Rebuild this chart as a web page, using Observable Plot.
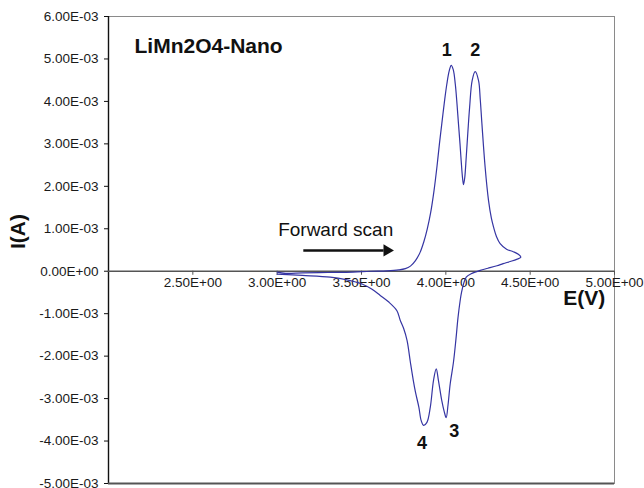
<!DOCTYPE html>
<html><head><meta charset="utf-8">
<script src="https://cdn.jsdelivr.net/npm/d3@7"></script>
<script src="https://cdn.jsdelivr.net/npm/@observablehq/plot@0.6"></script>
<style>body{margin:0;background:#fff} svg{overflow:visible}</style>
</head><body><div id="chart"></div>
<script>
// Cyclic voltammogram, scan order: forward (anodic) 3.0 -> 4.45 V, then reverse (cathodic) back to 3.0 V
const scanE = [
  3.000,3.050,3.150,3.300,3.450,3.550,3.650,3.720,3.760,3.790,3.820,3.848,3.870,3.890,3.910,3.930,3.947,3.962,3.976,3.992,
  4.006,4.020,4.032,4.044,4.056,4.066,4.075,4.084,4.091,4.099,4.105,4.112,4.121,4.131,4.141,4.156,4.174,4.194,4.204,4.214,
  4.233,4.253,4.270,4.283,4.300,4.322,4.360,4.400,4.430,4.445,
  4.420,4.382,4.340,4.303,4.250,4.204,4.150,4.121,4.105,4.093,4.085,4.072,4.060,4.045,4.026,4.013,4.002,3.990,3.976,3.956,
  3.943,3.927,3.908,3.888,3.868,3.854,3.840,3.820,3.807,3.790,3.770,3.750,3.730,3.710,3.660,3.611,3.560,3.503,3.400,3.315,
  3.150,3.000
];
// current in mA
const scanI = [
  -0.02,-0.05,-0.04,-0.03,-0.02,0.00,0.01,0.03,0.06,0.12,0.25,0.45,0.70,1.00,1.38,1.90,2.45,3.00,3.47,4.00,
  4.41,4.72,4.85,4.75,4.41,3.95,3.47,3.00,2.60,2.20,2.04,2.20,2.69,3.30,3.86,4.49,4.70,4.49,4.05,3.47,
  2.45,1.67,1.25,1.04,0.82,0.65,0.52,0.46,0.40,0.33,
  0.28,0.23,0.18,0.13,0.07,0.02,-0.06,-0.14,-0.30,-0.50,-0.69,-1.10,-1.60,-2.15,-2.65,-3.15,-3.45,-3.30,-3.05,-2.57,
  -2.30,-2.57,-3.20,-3.56,-3.63,-3.52,-3.20,-2.85,-2.57,-2.15,-1.63,-1.35,-1.16,-0.93,-0.72,-0.57,-0.42,-0.30,-0.19,-0.14,
  -0.10,-0.07
];

const xTicks = [2.5, 3.0, 3.5, 4.0, 4.5, 5.0];
const yTicks = [-5e-3,-4e-3,-3e-3,-2e-3,-1e-3,0,1e-3,2e-3,3e-3,4e-3,5e-3,6e-3];

const peakLabels = ["1","2","3","4"];
const peakE = [4.006, 4.174, 4.050, 3.858];
const peakI = [5.21, 5.21, -3.76, -4.06];

const titleText = ["LiMn2O4-Nano"];
const titleE = [2.154];
const titleI = [5.30];

const scanText = ["Forward scan"];
const scanTextE = [3.347];
const scanTextI = [0.98];

const arrowE = [3.155, 3.671];
const arrowI = [0.49, 0.49];

const xLabel = "E(V)";
const xLabelE = 4.82;
const xLabelI = -0.64;
const yLabel = "I(A)";

const fmt = d => {
  const [m, e] = d.toExponential(2).split("e");
  const n = +e;
  return m + "E" + (n < 0 ? "-" : "+") + String(Math.abs(n)).padStart(2, "0");
};

const curve = scanE.map((E, i) => ({E, I: scanI[i] / 1000}));
const peaks = peakLabels.map((t, i) => ({t, E: peakE[i], I: peakI[i] / 1000}));

const chart = Plot.plot({
  width: 644,
  height: 488,
  marginLeft: 108,
  marginRight: 30,
  marginTop: 16,
  marginBottom: 5,
  style: {fontFamily: "'Liberation Sans', Arial, sans-serif", background: "#fff", color: "#1a1a1a", overflow: "visible"},
  x: {domain: [2.0, 5.0], axis: null},
  y: {domain: [-5e-3, 6e-3]},
  marks: [
    Plot.frame({stroke: "#8a8a8a", strokeWidth: 1}),
    Plot.ruleX([2.0], {stroke: "#111", strokeWidth: 1.4}),
    Plot.ruleY([-5e-3], {stroke: "#555", strokeWidth: 2}),
    Plot.axisY({ticks: yTicks, tickFormat: fmt, tickSize: 4, tickPadding: 6, fontSize: 13.5, label: null, stroke: "#111"}),
    // x axis drawn through y = 0
    Plot.ruleY([0], {stroke: "#555", strokeWidth: 1.3}),
    Plot.ruleX(xTicks, {x: d => d, y1: 0, y2: -0.095e-3, stroke: "#555", strokeWidth: 1}),
    Plot.text(xTicks, {x: d => d, y: 0, text: fmt, lineAnchor: "top", dy: 6.3, fontSize: 13.5, fill: "#1a1a1a"}),
    // curve
    Plot.line(curve, {x: "E", y: "I", stroke: "#3535a3", strokeWidth: 1.2, curve: "catmull-rom"}),
    // annotations
    Plot.text(peaks, {x: "E", y: "I", text: "t", fontSize: 18, fontWeight: "bold", fill: "#111"}),
    Plot.text(titleText, {x: () => titleE[0], y: () => titleI[0] / 1000, text: d => d, textAnchor: "start", fontSize: 21, fontWeight: "bold", fill: "#111"}),
    Plot.text(scanText, {x: () => scanTextE[0], y: () => scanTextI[0] / 1000, text: d => d, fontSize: 19, fill: "#111"}),
    Plot.link([0], {x1: () => arrowE[0], y1: () => arrowI[0] / 1000, x2: () => arrowE[1] - 0.04, y2: () => arrowI[1] / 1000, stroke: "#111", strokeWidth: 2.4}),
    Plot.dot([0], {x: () => arrowE[1] - 0.02, y: () => arrowI[1] / 1000, symbol: "triangle", r: 4.5, rotate: 90, fill: "#111", stroke: null}),
    Plot.text([xLabel], {x: () => xLabelE, y: () => xLabelI / 1000, text: d => d, fontSize: 21, fontWeight: "bold", fill: "#111"}),
    Plot.text([yLabel], {frameAnchor: "left", dx: -90, dy: -1, rotate: -90, text: d => d, fontSize: 21, fontWeight: "bold", fill: "#111"})
  ]
});
document.getElementById("chart").appendChild(chart);
</script>
</body></html>
